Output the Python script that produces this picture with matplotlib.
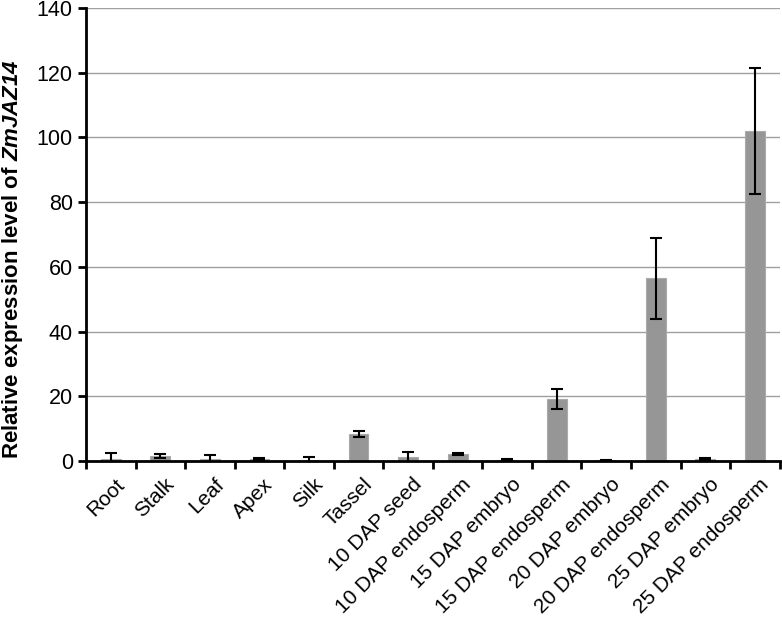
import numpy as np
import matplotlib.pyplot as plt
import matplotlib.transforms as mtransforms

plt.rcParams['font.family'] = ['Liberation Sans', 'DejaVu Sans']
plt.rcParams['mathtext.fontset'] = 'custom'
plt.rcParams['mathtext.bfit'] = 'Liberation Sans:bold:italic'

# tissues and relative expression (mean, error)
tissues = ["Root", "Stalk", "Leaf", "Apex", "Silk", "Tassel", "10 DAP seed",
           "10 DAP endosperm", "15 DAP embryo", "15 DAP endosperm",
           "20 DAP embryo", "20 DAP endosperm", "25 DAP embryo", "25 DAP endosperm"]
expression = [0.7, 1.5, 0.5, 0.7, 0.3, 8.2, 1.1, 2.1, 0.4, 19.1, 0.2, 56.5, 0.5, 102.0]
errors = [1.8, 0.5, 1.3, 0.3, 1.0, 0.9, 1.7, 0.4, 0.2, 3.1, 0.1, 12.5, 0.3, 19.5]

fig = plt.figure(figsize=(7.82, 6.17), dpi=100)
ax = fig.add_axes([0.11, 0.253, 0.887, 0.734])

x = np.arange(len(tissues))
ax.bar(x, expression, width=0.4, color='#969696', edgecolor='#aaaaaa', linewidth=0.8, zorder=2)
ax.errorbar(x, expression, yerr=errors, fmt='none', ecolor='black',
            elinewidth=1.5, capsize=4, capthick=1.5, zorder=3)

ax.set_xlim(-0.5, len(tissues) - 0.5)
ax.set_ylim(0, 140)
ax.set_yticks(np.arange(0, 141, 20))
ax.yaxis.grid(True, color='#a0a0a0', linewidth=1, zorder=0)
ax.set_axisbelow(True)

ax.set_xticks(x)
ax.set_xticklabels(tissues, rotation=45, ha='right', rotation_mode='anchor', fontsize=15)
ax.tick_params(axis='x', which='major', length=0, pad=10)
shift = mtransforms.ScaledTranslation(4 / 100, 0, fig.dpi_scale_trans)
for lbl in ax.get_xticklabels():
    lbl.set_transform(lbl.get_transform() + shift)
ax.set_xticks(np.arange(-0.5, len(tissues), 1), minor=True)
ax.tick_params(axis='x', which='minor', length=6, width=2, direction='out')
ax.tick_params(axis='y', labelsize=15.5, length=6, width=2, direction='out')

for s in ['top', 'right']:
    ax.spines[s].set_visible(False)
for s in ['left', 'bottom']:
    ax.spines[s].set_linewidth(2)

ax.set_ylabel(r"Relative expression level of $\mathbfit{ZmJAZ14}$",
              fontsize=16, fontweight='bold')
ax.yaxis.set_label_coords(-0.088, 0.445)

fig.savefig('out.png', dpi=100)
